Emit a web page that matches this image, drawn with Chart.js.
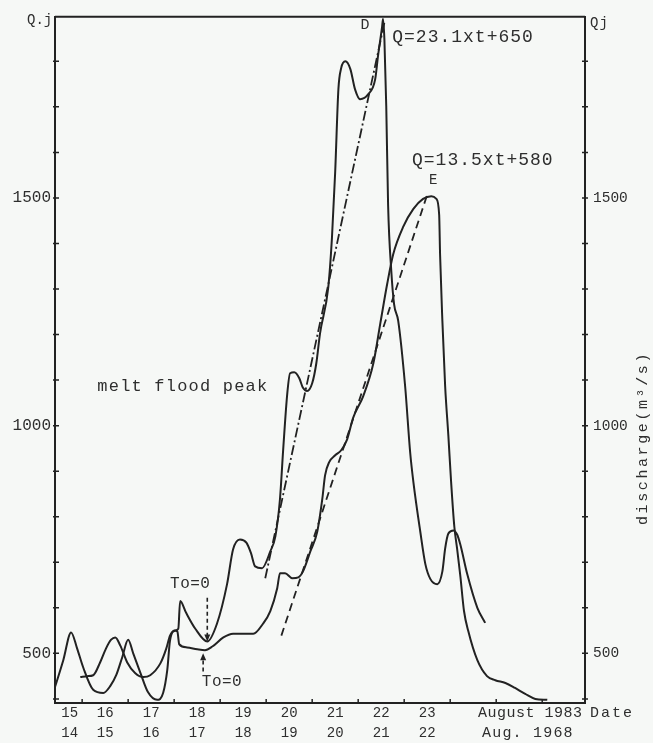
<!DOCTYPE html>
<html>
<head>
<meta charset="utf-8">
<script src="https://cdn.jsdelivr.net/npm/chart.js@4.4.0/dist/chart.umd.min.js"></script>
<style>
  html, body { margin: 0; padding: 0; background: #f6f8f6; }
  canvas { display: block; }
</style>
</head>
<body>
<canvas id="chart" width="653" height="743"></canvas>
<script>
// discharge (m3/s) against day of August 1983
const days1983 = [15.41, 15.59, 15.76, 15.89, 16.02, 16.24, 16.46, 16.61, 16.74, 16.87, 17.0, 17.11, 17.26, 17.43, 17.63,
  17.76, 17.85, 17.91, 18.02, 18.09, 18.13, 18.26, 18.46, 18.72, 18.93, 19.15, 19.28, 19.43, 19.57, 19.67, 19.76, 19.91,
  20.09, 20.2, 20.3, 20.37, 20.46, 20.52, 20.61, 20.72, 20.8, 20.89, 21.0, 21.09, 21.17, 21.35, 21.43, 21.5, 21.57, 21.63,
  21.72, 21.83, 21.93, 22.04, 22.22, 22.37, 22.43, 22.52, 22.54, 22.57, 22.61, 22.65, 22.72, 22.78, 22.87, 23.02, 23.13,
  23.2, 23.35, 23.46, 23.57, 23.72, 23.83, 23.89, 23.96, 24.07, 24.15, 24.22, 24.37, 24.59, 24.76];
const flow1983 = [426, 485, 546, 511, 470, 420, 413, 428, 452, 491, 530, 500, 459, 415, 398,
  413, 463, 528, 550, 554, 615, 589, 554, 526, 565, 652, 728, 750, 743, 720, 691, 687,
  724, 757, 839, 948, 1072, 1115, 1117, 1104, 1083, 1076, 1093, 1137, 1202, 1304, 1413, 1557, 1739, 1785,
  1800, 1783, 1739, 1717, 1728, 1761, 1811, 1876, 1893, 1848, 1702, 1485, 1339, 1267, 1230, 1087, 941,
  876, 767, 696, 663, 652, 680, 730, 763, 770, 761, 739, 674, 600, 567];

// 1968 curve, placed on the 1983 date axis (one day shift)
const days1968 = [15.96, 16.11, 16.24, 16.39, 16.52, 16.63, 16.72, 16.83, 16.98, 17.15, 17.33, 17.48, 17.7, 17.83, 17.91,
  18.02, 18.07, 18.11, 18.28, 18.5, 18.67, 18.83, 19.07, 19.28, 19.54, 19.72, 19.93, 20.09, 20.24, 20.3, 20.41, 20.57,
  20.7, 20.8, 20.96, 21.11, 21.22, 21.28, 21.37, 21.5, 21.63, 21.76, 21.89, 22.11, 22.33, 22.48, 22.63, 22.76, 22.98,
  23.2, 23.41, 23.59, 23.7, 23.76, 23.78, 23.83, 23.89, 23.96, 24.02, 24.09, 24.15, 24.22, 24.3, 24.39, 24.59, 24.8,
  24.98, 25.2, 25.41, 25.63, 25.85, 26.11];
const flow1968 = [448, 450, 452, 480, 511, 530, 535, 517, 480, 457, 448, 452, 478, 511, 539,
  550, 548, 520, 513, 509, 507, 515, 535, 543, 543, 543, 565, 593, 643, 676, 676, 665,
  667, 680, 724, 767, 839, 891, 920, 935, 946, 970, 1017, 1065, 1137, 1224, 1311, 1376, 1437,
  1476, 1498, 1504, 1498, 1463, 1376, 1230, 1087, 978, 876, 778, 730, 670, 593, 550, 485, 450,
  441, 435, 424, 411, 400, 398];

// fitted rising limbs
const fitDDays = [19.98, 22.57];
const fitDFlow = [665, 1885];
const fitEDays = [20.33, 23.52];
const fitEFlow = [539, 1513];

const dateLabels1983 = ['15', '16', '17', '18', '19', '20', '21', '22', '23'];
const dateLabels1968 = ['14', '15', '16', '17', '18', '19', '20', '21', '22'];
const qTicks = [500, 1000, 1500];

const ink = '#222';
const textInk = '#2e2e2e';
const mono = '"Liberation Mono", "DejaVu Sans Mono", monospace';

function pts(xs, ys) {
    return xs.map((v, i) => ({ x: v, y: ys[i] }));
}

function text(ctx, str, x, y, size, align, spacing) {
    ctx.font = size + 'px ' + mono;
    ctx.textAlign = align || 'left';
    ctx.textBaseline = 'middle';
    ctx.letterSpacing = (spacing || 0) + 'px';
    ctx.fillText(str, x, y);
}

function arrow(ctx, x, y0, y1) {
    // dashed stem from y0 to y1, head at y1
    const dir = y1 > y0 ? 1 : -1;
    ctx.setLineDash([4, 3]);
    ctx.lineWidth = 1.6;
    ctx.beginPath();
    ctx.moveTo(x, y0);
    ctx.lineTo(x, y1 - dir * 5);
    ctx.stroke();
    ctx.setLineDash([]);
    ctx.beginPath();
    ctx.moveTo(x, y1);
    ctx.lineTo(x - 3, y1 - dir * 7);
    ctx.lineTo(x + 3, y1 - dir * 7);
    ctx.closePath();
    ctx.fill();
}

const overlay = {
    id: 'overlay',
    beforeDraw(chart) {
        const ctx = chart.ctx;
        ctx.save();
        ctx.fillStyle = '#f6f8f6';
        ctx.fillRect(0, 0, chart.width, chart.height);
        ctx.restore();
    },
    afterDraw(chart) {
        const { ctx, chartArea: a, scales: { x, y } } = chart;
        ctx.save();
        ctx.strokeStyle = ink;
        ctx.fillStyle = textInk;

        // top edge of the frame
        ctx.lineWidth = 2;
        ctx.beginPath();
        ctx.moveTo(a.left, a.top);
        ctx.lineTo(a.right, a.top);
        ctx.stroke();

        // small tick marks
        ctx.lineWidth = 1.5;
        for (let d = 16; d <= 26; d++) {
            const px = x.getPixelForValue(d);
            ctx.beginPath();
            ctx.moveTo(px, a.bottom);
            ctx.lineTo(px, a.bottom - 4);
            ctx.stroke();
        }
        for (let q = 400; q <= 1800; q += 100) {
            const py = y.getPixelForValue(q);
            ctx.beginPath();
            ctx.moveTo(a.left - 2, py);
            ctx.lineTo(a.left + 4, py);
            ctx.moveTo(a.right - 3, py);
            ctx.lineTo(a.right + 3, py);
            ctx.stroke();
        }

        // axis captions
        text(ctx, 'Q.j', 27, 20, 14, 'left');
        text(ctx, 'Qj', 590, 23, 14, 'left', 1);
        text(ctx, 'August 1983', 478, 713, 15, 'left', 0.5);
        text(ctx, 'Date', 590, 713, 15, 'left', 2);
        text(ctx, 'Aug. 1968', 482, 733, 15, 'left', 1.2);

        ctx.save();
        ctx.translate(643, 438);
        ctx.rotate(-Math.PI / 2);
        text(ctx, 'discharge(m\u00b3/s)', 0, 0, 15, 'center', 2.6);
        ctx.restore();

        // annotations inside the plot
        const X = v => x.getPixelForValue(v);
        const Y = v => y.getPixelForValue(v);
        text(ctx, 'D', X(22.15), Y(1880), 15, 'center');
        text(ctx, 'Q=23.1xt+650', X(22.74), Y(1852), 18, 'left', 1);
        text(ctx, 'Q=13.5xt+580', X(23.17), Y(1583), 18, 'left', 1);
        text(ctx, 'E', X(23.63), Y(1539), 14, 'center');
        text(ctx, 'melt flood peak', X(16.33), Y(1087), 17, 'left', 1.2);
        text(ctx, 'To=0', X(18.35), Y(652), 16, 'center', 0.5);
        text(ctx, 'To=0', X(19.04), Y(437), 16, 'center', 0.5);

        ctx.fillStyle = ink;
        arrow(ctx, X(18.72), Y(622), Y(526));
        arrow(ctx, X(18.63), Y(460), Y(500));
        ctx.restore();
    }
};

const curveStyle = {
    borderColor: ink,
    borderWidth: 2,
    pointRadius: 0,
    fill: false,
    cubicInterpolationMode: 'monotone'
};

new Chart(document.getElementById('chart'), {
    type: 'line',
    data: {
        datasets: [
            Object.assign({ label: 'August 1983', data: pts(days1983, flow1983) }, curveStyle),
            Object.assign({ label: 'Aug. 1968', data: pts(days1968, flow1968) }, curveStyle),
            { label: 'fit D', data: pts(fitDDays, fitDFlow), borderColor: ink, borderWidth: 1.8,
              borderDash: [10, 3, 2, 3], pointRadius: 0, tension: 0 },
            { label: 'fit E', data: pts(fitEDays, fitEFlow), borderColor: ink, borderWidth: 1.8,
              borderDash: [8, 5], pointRadius: 0, tension: 0 }
        ]
    },
    options: {
        responsive: false,
        animation: false,
        devicePixelRatio: 1,
        layout: { padding: { top: 10, left: 0, right: 0, bottom: 0 } },
        plugins: { legend: { display: false }, tooltip: { enabled: false } },
        scales: {
            x: {
                type: 'linear',
                min: 15.41,
                max: 26.93,
                grid: { display: false, drawTicks: false },
                border: { display: true, color: ink, width: 2 },
                afterFit: s => { s.height = 40; },
                afterBuildTicks: s => {
                    // labels sit mid-day; the first one is nudged clear of the axis
                    s.ticks = dateLabels1983.map(d => ({ value: Math.max(Number(d) + 0.5, 15.73) }));
                },
                ticks: {
                    autoSkip: false,
                    maxRotation: 0,
                    padding: 0,
                    color: textInk,
                    font: { family: mono, size: 14, lineHeight: 1.43 },
                    callback: (v, i) => [dateLabels1983[i], dateLabels1968[i]]
                }
            },
            y: {
                position: 'left',
                min: 391,
                max: 1898,
                grid: { display: false, drawTicks: false },
                border: { display: true, color: ink, width: 2 },
                afterFit: s => { s.width = 55; },
                afterBuildTicks: s => { s.ticks = qTicks.map(v => ({ value: v })); },
                ticks: { padding: 4, color: textInk, font: { family: mono, size: 16 },
                         callback: v => String(v) }
            },
            y2: {
                position: 'right',
                min: 391,
                max: 1898,
                grid: { display: false, drawTicks: false },
                border: { display: true, color: ink, width: 2 },
                afterFit: s => { s.width = 68; },
                afterBuildTicks: s => { s.ticks = qTicks.map(v => ({ value: v })); },
                ticks: { padding: 8, color: textInk, font: { family: mono, size: 14.5 },
                         callback: v => String(v) }
            }
        }
    },
    plugins: [overlay]
});
</script>
</body>
</html>
